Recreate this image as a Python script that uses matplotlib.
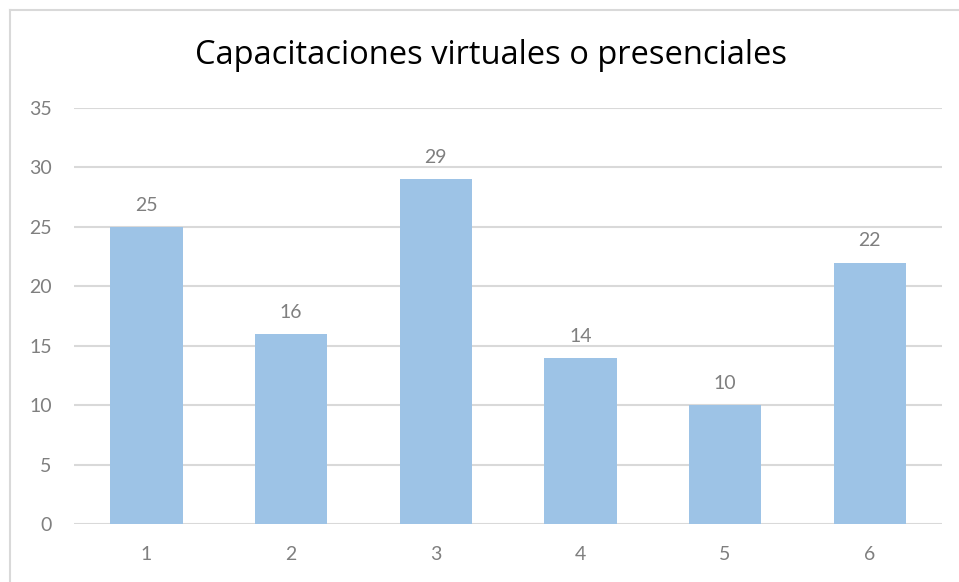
import matplotlib.pyplot as plt
from matplotlib.lines import Line2D

categories = ["1", "2", "3", "4", "5", "6"]
values = [25, 16, 29, 14, 10, 22]
yticks = [0, 5, 10, 15, 20, 25, 30, 35]
title = "Capacitaciones virtuales o presenciales"

plt.rcParams['font.family'] = ['Lato', 'DejaVu Sans']

fig = plt.figure(figsize=(9.59, 5.82), dpi=100)
W, H = 959, 582
ax = fig.add_axes([74 / W, 1 - 524 / H, (942 - 74) / W, (524 - 108) / H])

x = range(len(categories))
ax.bar(x, values, width=0.5, color='#9DC3E6', zorder=3)
for i, v in enumerate(values):
  ax.text(i, v + 1.1, str(v), ha='center', va='bottom', fontsize=14, color='#7F7F7F')

ax.set_xlim(-0.5, len(categories) - 0.5)
ax.set_ylim(0, 35)
ax.set_yticks(yticks)
ax.set_xticks(list(x))
ax.set_xticklabels(categories)
ax.grid(axis='y', color='#D9D9D9', linewidth=1.5, zorder=0)
for s in ax.spines.values():
  s.set_visible(False)
ax.tick_params(length=0, labelsize=14, labelcolor='#7F7F7F')
ax.tick_params(axis='y', pad=16)
ax.tick_params(axis='x', pad=16)

fig.text(491 / W, 1 - 55 / H, title, ha='center', va='center', fontsize=23.5,
         color='#000000', family=['Open Sans', 'DejaVu Sans'])

# chart frame (top and left edges visible)
fig.add_artist(Line2D([10 / W, 1], [1 - 10 / H, 1 - 10 / H], color='#D9D9D9', linewidth=1.5, transform=fig.transFigure))
fig.add_artist(Line2D([10 / W, 10 / W], [0, 1 - 10 / H], color='#D9D9D9', linewidth=1.5, transform=fig.transFigure))

fig.savefig('out.png', dpi=100)
